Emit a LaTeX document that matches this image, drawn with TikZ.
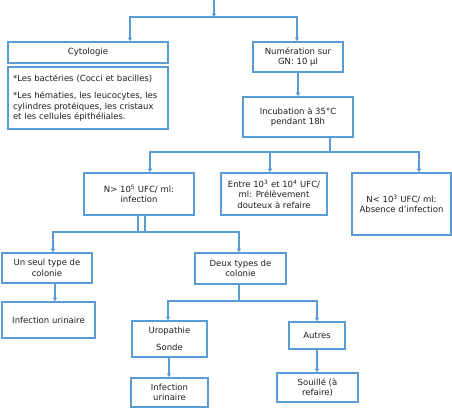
\documentclass[tikz,border=0pt]{standalone}
\usepackage{fontspec}
\setmainfont{DejaVu Sans}
\usetikzlibrary{arrows.meta}
\definecolor{bl}{RGB}{91,155,213}
\definecolor{tx}{RGB}{30,30,30}
\begin{document}
\begin{tikzpicture}[x=1pt,y=-1pt,
  box/.style={draw=bl, line width=1.6pt, fill=white, inner sep=0pt, align=center,
    text=tx, font=\fontsize{8.5}{10.5}\selectfont},
  conn/.style={draw=bl, line width=1.3pt},
  arr/.style={conn, -{Triangle[length=3.5pt,width=4pt]}}]
\useasboundingbox (0,0) rectangle (452,408);
% boxes
\node[box, minimum width=160, minimum height=21] (cyto) at (88,52.5) {Cytologie};
\node[box, minimum width=160, minimum height=62, align=left, text width=150] (det) at (88,98)
  {*Les bactéries (Cocci et bacilles)\\[7pt]*Les hématies, les leucocytes, les\\cylindres protéiques, les cristaux\\et les cellules épithéliales.};
\node[box, minimum width=90, minimum height=30] (num) at (298,57) {Numération sur\\GN: 10 µl};
\node[box, minimum width=110, minimum height=40] (inc) at (298,117) {Incubation à 35°C\\pendant 18h};
\node[box, minimum width=110, minimum height=42] (ngt) at (139,194) {N> 10\textsuperscript{5} UFC/ ml:\\infection};
\node[box, minimum width=106, minimum height=42] (ent) at (274,194) {Entre 10\textsuperscript{3} et 10\textsuperscript{4} UFC/\\ml: Prélèvement\\douteux à refaire};
\node[box, minimum width=99, minimum height=62] (nlt) at (401.5,204) {N< 10\textsuperscript{3} UFC/ ml:\\Absence d’infection};
\node[box, minimum width=90, minimum height=30] (seul) at (47,268) {Un seul type de\\colonie};
\node[box, minimum width=91, minimum height=31] (deux) at (240.5,268.5) {Deux types de\\colonie};
\node[box, minimum width=93, minimum height=36] (inf1) at (48.5,320) {Infection urinaire};
\node[box, minimum width=75, minimum height=36] (uro) at (169.5,339) {Uropathie\\[6.5pt]Sonde};
\node[box, minimum width=77, minimum height=29] (inf2) at (169.5,392.5) {Infection\\urinaire};
\node[box, minimum width=56, minimum height=27] (aut) at (317,335.5) {Autres};
\node[box, minimum width=81, minimum height=29] (sou) at (317.5,387.5) {Souillé (à\\refaire)};
% junction coordinates
\coordinate (t0) at (214,0);
\coordinate (j0) at (214,17);
\coordinate (j1) at (330,152);
\coordinate (j2) at (141.5,232);
\coordinate (j3) at (239,301);
% connectors
\draw[arr] (t0) -- (j0);
\draw[arr] (j0) -| ([xshift=42pt]cyto.north);
\draw[arr] (j0) -| ([xshift=-1pt]num.north);
\draw[arr] (num.south) -- (inc.north);
\draw[conn] ([xshift=32pt]inc.south) -- (j1);
\draw[arr] (j1) -| ([xshift=11pt]ngt.north);
\draw[arr] (j1) -| ([xshift=-4pt]ent.north);
\draw[arr] (j1) -| ([xshift=17.5pt]nlt.north);
\draw[conn] ([xshift=-1pt]ngt.south) -- ([xshift=-1pt]ngt.south |- j2);
\draw[conn] ([xshift=6pt]ngt.south) -- ([xshift=6pt]ngt.south |- j2);
\draw[arr] (j2) -| ([xshift=6pt]seul.north);
\draw[arr] (j2) -| ([xshift=-1.5pt]deux.north);
\draw[arr] ([xshift=8pt]seul.south) -- ([xshift=8pt]seul.south |- inf1.north);
\draw[conn] ([xshift=-1.5pt]deux.south) -- (j3);
\draw[arr] (j3) -| ([xshift=-1.5pt]uro.north);
\draw[arr] (j3) -| (aut.north);
\draw[arr] ([xshift=-0.5pt]uro.south) -- ([xshift=-0.5pt]uro.south |- inf2.north);
\draw[arr] (aut.south) -- (aut.south |- sou.north);
\end{tikzpicture}
\end{document}
